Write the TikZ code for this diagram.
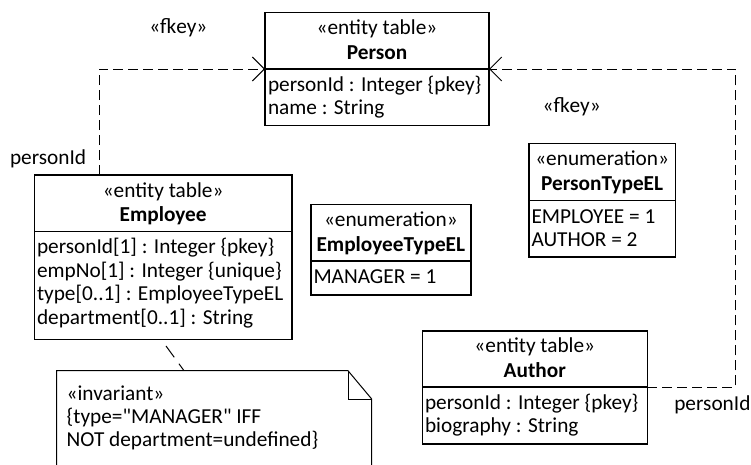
\documentclass[tikz,border=0pt]{standalone}
\usepackage{fontspec}
\setmainfont{Carlito}
\usetikzlibrary{arrows.meta,calc}

\begin{document}
\begin{tikzpicture}[x=1pt,y=-1pt,
  every node/.style={font=\fontsize{21.3}{24}\selectfont, inner sep=0pt, outer sep=0pt},
  tablebox/.style={draw, line width=1.6pt, anchor=north west, fill=white},
  compsep/.style={line width=1.6pt},
  hdr/.style={anchor=base},
  attr/.style={anchor=base west},
  lbl/.style={anchor=base west},
  fk/.style={dashed, dash pattern=on 10pt off 5pt, line width=1pt,
             -{Straight Barb[length=12pt,width=24pt,line width=1pt]}},
  notelink/.style={dashed, dash pattern=on 14pt off 8pt, dash phase=14pt, line width=1pt},
  notefold/.style={line width=1pt}
]
\useasboundingbox (0,0) rectangle (751,464);

% ---------- Person ----------
\node[tablebox, minimum width=224pt, minimum height=113pt] (person) at (265,12.5) {};
\draw[compsep] (265,69) -- (489,69);
\node[hdr] (person-st) at (377,34.5) {«entity table»};
\node[hdr] (person-nm) at (377,59) {\bfseries Person};
\node[attr] (person-a1) at (268,91.5) {personId : Integer \{pkey\}};
\node[attr] (person-a2) at (268,114.5) {name : String};

% ---------- Employee ----------
\node[tablebox, minimum width=257.7pt, minimum height=164.5pt] (employee) at (34.3,175) {};
\draw[compsep] (34.3,231.5) -- (292,231.5);
\node[hdr] (employee-st) at (163.15,197) {«entity table»};
\node[hdr] (employee-nm) at (163.15,221.5) {\bfseries Employee};
\node[attr] (employee-a1) at (37,253.5) {personId[1] : Integer \{pkey\}};
\node[attr] (employee-a2) at (37,277) {empNo[1] : Integer \{unique\}};
\node[attr] (employee-a3) at (37,300.5) {type[0..1] : EmployeeTypeEL};
\node[attr] (employee-a4) at (37,324) {department[0..1] : String};

% ---------- EmployeeTypeEL ----------
\node[tablebox, minimum width=159.7pt, minimum height=90.7pt] (emptype) at (311,204.3) {};
\draw[compsep] (311,261) -- (470.7,261);
\node[hdr] (emptype-st) at (390.85,226.5) {«enumeration»};
\node[hdr] (emptype-nm) at (390.85,251) {\bfseries EmployeeTypeEL};
\node[attr] (emptype-a1) at (313.5,283.5) {MANAGER = 1};

% ---------- PersonTypeEL ----------
\node[tablebox, minimum width=146.3pt, minimum height=113.4pt] (perstype) at (529,143.3) {};
\draw[compsep] (529,200.3) -- (675.3,200.3);
\node[hdr] (perstype-st) at (602.15,165.5) {«enumeration»};
\node[hdr] (perstype-nm) at (602.15,190) {\bfseries PersonTypeEL};
\node[attr] (perstype-a1) at (531.5,223) {EMPLOYEE = 1};
\node[attr] (perstype-a2) at (531.5,246) {AUTHOR = 2};

% ---------- Author ----------
\node[tablebox, minimum width=225pt, minimum height=113.3pt] (author) at (422.3,330.7) {};
\draw[compsep] (422.3,386.7) -- (647.3,386.7);
\node[hdr] (author-st) at (534.8,352.7) {«entity table»};
\node[hdr] (author-nm) at (534.8,377.2) {\bfseries Author};
\node[attr] (author-a1) at (425,409.5) {personId : Integer \{pkey\}};
\node[attr] (author-a2) at (425,432.5) {biography : String};

% ---------- invariant note ----------
\node[anchor=north west, minimum width=315pt, minimum height=115pt] (note) at (56.7,370.7) {};
\draw[notefold] (note.south west) -- (note.north west) -- (348,370.7) -- (371.7,399) -- (note.south east);
\draw[notefold] (348,370.7) -- (348,399) -- (371.7,399);
\node[lbl] (note-l1) at (66.7,400) {«invariant»};
\node[lbl] (note-l2) at (66.7,423.3) {\{type=\textquotedbl MANAGER\textquotedbl{} IFF};
\node[lbl] (note-l3) at (66.7,446.7) {NOT department=undefined\}};
\draw[notelink] ($(employee.south west)+(127,0)$) -- ($(note.north west)+(127.3,0)$);

% ---------- foreign keys ----------
\draw[fk] ($(employee.north west)+(65,0)$) |- (person.west);
\node[hdr] (fkey1) at (178.3,33.3) {«fkey»};
\node[lbl] (fk1-col) at (10,164.3) {personId};

\draw[fk] (author.east) -- ++(88,0) |- (person.east);
\node[hdr] (fkey2) at (571.7,112.7) {«fkey»};
\node[lbl] (fk2-col) at (674.3,410) {personId};
\end{tikzpicture}
\end{document}
